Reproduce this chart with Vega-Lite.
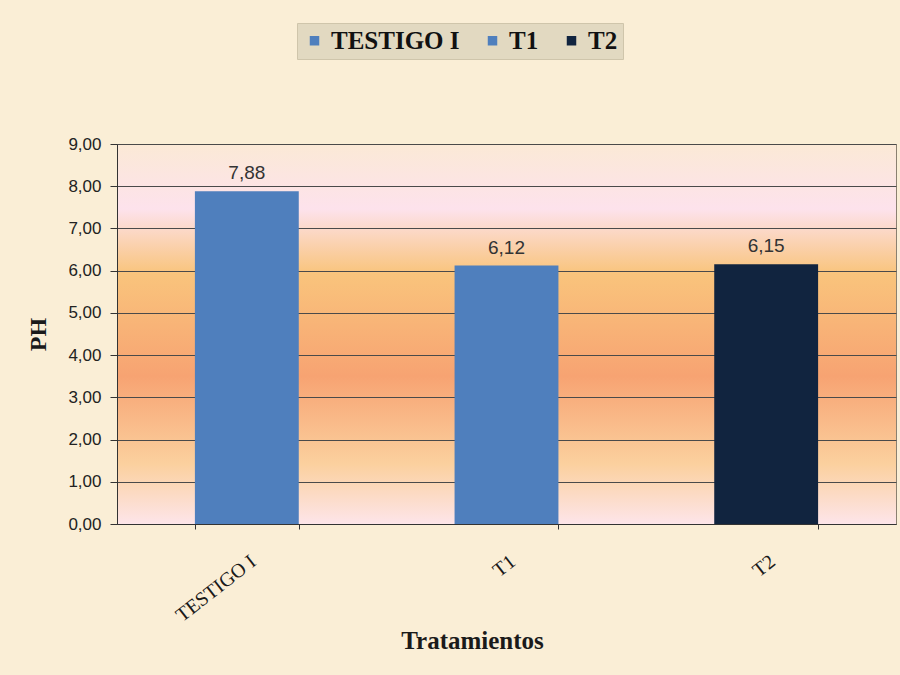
{
  "$schema": "https://vega.github.io/schema/vega-lite/v6.json",
  "width": 779,
  "height": 380,
  "autosize": {"type": "none"},
  "padding": {"left": 117, "top": 144, "right": 4, "bottom": 151},
  "background": "#faeed6",
  "config": {
    "locale": {"number": {"decimal": ",", "thousands": ".", "grouping": [3], "currency": ["", " €"]}},
    "view": {
      "stroke": "#8a8070", "strokeWidth": 1,
      "fill": {
        "gradient": "linear",
        "x1": 0, "y1": 0, "x2": 0, "y2": 1,
        "stops": [
          {"offset": 0, "color": "#fbe9d6"},
          {"offset": 0.17, "color": "#fde2ec"},
          {"offset": 0.34, "color": "#f9c47c"},
          {"offset": 0.61, "color": "#f7a372"},
          {"offset": 0.84, "color": "#fbd09e"},
          {"offset": 1, "color": "#fde5ea"}
        ]
      }
    }
  },
  "data": {
    "values": [
      {"tratamiento": "TESTIGO I", "ph": 7.88},
      {"tratamiento": "T1", "ph": 6.12},
      {"tratamiento": "T2", "ph": 6.15}
    ]
  },
  "encoding": {
    "x": {
      "field": "tratamiento", "type": "nominal",
      "sort": ["TESTIGO I", "T1", "T2"],
      "scale": {"paddingInner": 0.6, "paddingOuter": 0.3},
      "axis": {
        "title": "Tratamientos",
        "titleFont": "Liberation Serif", "titleFontSize": 25, "titleFontWeight": "bold", "titleColor": "#1a1a1a",
        "titleX": 355, "titleY": 116, "titleBaseline": "middle",
        "labelAngle": -38, "labelFont": "Liberation Serif", "labelFontSize": 20, "labelColor": "#1a1a1a",
        "labelPadding": 22,
        "tickBand": "extent", "tickSize": 5, "tickColor": "#333",
        "domainColor": "#333", "grid": false
      }
    },
    "y": {
      "field": "ph", "type": "quantitative",
      "scale": {"domain": [0, 9]},
      "axis": {
        "title": "PH",
        "titleFont": "Liberation Serif", "titleFontSize": 24, "titleFontWeight": "bold", "titleColor": "#1a1a1a",
        "titleX": -79, "titleBaseline": "middle",
        "values": [0, 1, 2, 3, 4, 5, 6, 7, 8, 9], "format": ".2f",
        "labelFont": "Liberation Sans", "labelFontSize": 17, "labelColor": "#222",
        "labelPadding": 9,
        "tickSize": 7, "tickColor": "#333", "domainColor": "#333",
        "grid": true, "gridColor": "#4a4a4a", "gridWidth": 1, "gridOpacity": 1
      }
    }
  },
  "layer": [
    {
      "mark": {"type": "bar"},
      "encoding": {
        "color": {
          "field": "tratamiento", "type": "nominal",
          "scale": {"domain": ["TESTIGO I", "T1", "T2"], "range": ["#4f7fbd", "#4f7fbd", "#11243f"]},
          "legend": {
            "title": null, "orient": "none", "direction": "horizontal",
            "legendX": 180, "legendY": -121,
            "fillColor": "#e2d9c1", "strokeColor": "#cfc5ab", "padding": 5,
            "symbolType": "square", "symbolSize": 90, "symbolStrokeWidth": 0,
            "labelFont": "Liberation Serif", "labelFontSize": 25, "labelFontWeight": "bold", "labelColor": "#111",
            "labelOffset": 4, "columnPadding": 20
          }
        }
      }
    },
    {
      "mark": {"type": "text", "dy": -18, "font": "Liberation Sans", "fontSize": 19, "color": "#333"},
      "encoding": {
        "text": {"field": "ph", "type": "quantitative", "format": ".2f"}
      }
    }
  ]
}
